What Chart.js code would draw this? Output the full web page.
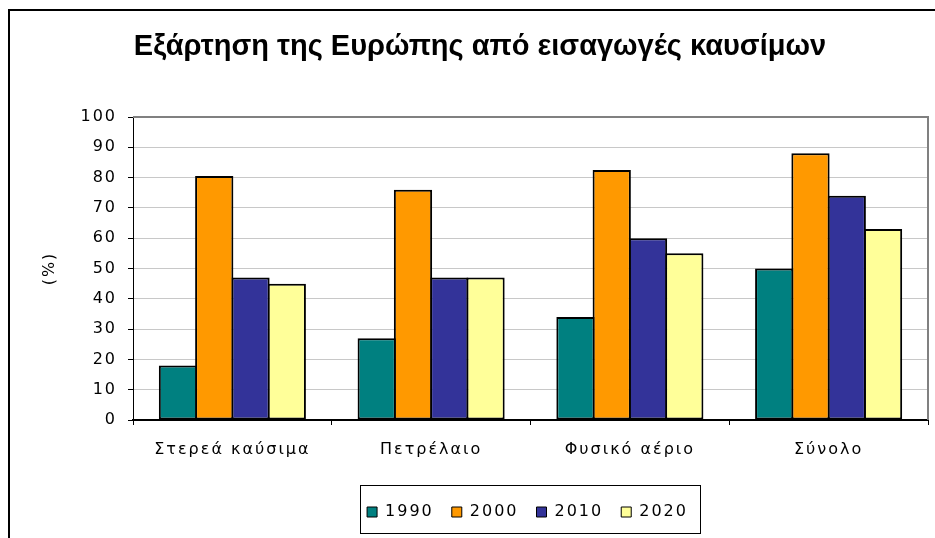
<!DOCTYPE html>
<html>
<head>
<meta charset="utf-8">
<script src="https://cdn.jsdelivr.net/npm/chart.js@4.4.1/dist/chart.umd.min.js"></script>
<style>
  body { margin: 0; background: #fff; overflow: hidden; }
  #wrap { position: relative; width: 935px; height: 538px; overflow: hidden; }
  #frame {
    position: absolute; left: 8px; top: 9px; width: 1000px; height: 600px;
    border: 2px solid #000; pointer-events: none;
  }
  #title {
    position: absolute; left: 8px; top: 31px; width: 944px; text-align: center;
    font: bold 29px/1 "Liberation Sans", Arial, sans-serif; color: #000;
  }
  canvas { position: absolute; left: 0; top: 0; }
</style>
</head>
<body>
<div id="wrap">
  <canvas id="chart" width="935" height="538"></canvas>
  <div id="title">Εξάρτηση της Ευρώπης από εισαγωγές καυσίμων</div>
  <div id="frame"></div>
</div>
<script>
const categories = ['Στερεά καύσιμα', 'Πετρέλαιο', 'Φυσικό αέριο', 'Σύνολο'];
const years = ['1990', '2000', '2010', '2020'];
const values1990 = [18, 27, 34, 50];
const values2000 = [80.5, 76, 82.5, 88];
const values2010 = [47, 47, 60, 74];
const values2020 = [45, 47, 55, 63];
const yTicks = [0, 10, 20, 30, 40, 50, 60, 70, 80, 90, 100];

const colors = ['#008080', '#FF9900', '#333399', '#FFFF99'];
const series = [values1990, values2000, values2010, values2020];

// Verdana-like wide spacing for all canvas text
const spacing = {
  id: 'spacing',
  beforeLayout(chart) { chart.ctx.letterSpacing = '2px'; },
  beforeDraw(chart) { chart.ctx.letterSpacing = '2px'; }
};

function legendExtent(lg) {
  let l = Infinity, r = -Infinity, t = Infinity, b = -Infinity;
  lg.legendHitBoxes.forEach(h => {
    l = Math.min(l, h.left); r = Math.max(r, h.left + h.width);
    t = Math.min(t, h.top); b = Math.max(b, h.top + h.height);
  });
  return { l, r, t, b };
}

// legend sits centred under the plot, not the whole canvas
const legendShift = {
  id: 'legendShift',
  beforeDraw(chart) {
    const lg = chart.legend;
    if (!lg.legendHitBoxes.length) return;
    const a = chart.chartArea;
    const e = legendExtent(lg);
    const dx = Math.round((a.left + a.right) / 2 - 3 - (e.l + e.r) / 2);
    lg.left += dx;
    lg.right += dx;
    lg.legendHitBoxes.forEach(h => { h.left += dx; });
  }
};

// gray frame on top/right of plot and a box round the legend
const frames = {
  id: 'frames',
  afterDraw(chart) {
    const ctx = chart.ctx;
    const a = chart.chartArea;
    ctx.save();
    ctx.strokeStyle = '#808080';
    ctx.lineWidth = 2;
    ctx.beginPath();
    ctx.moveTo(a.left, a.top);
    ctx.lineTo(a.right, a.top);
    ctx.lineTo(a.right, a.bottom);
    ctx.stroke();

    if (chart.legend.legendHitBoxes.length) {
      const e = legendExtent(chart.legend);
      ctx.strokeStyle = '#000';
      ctx.lineWidth = 1;
      const x0 = Math.round(e.l - 7), y0 = Math.round(e.t - 19);
      ctx.strokeRect(x0 + 0.5, y0 + 0.5, Math.round(e.r + 12) - x0, Math.round(e.b + 13) - y0);
    }
    ctx.restore();
  }
};

const font = { family: '"DejaVu Sans", Verdana, sans-serif', size: 16 };

new Chart(document.getElementById('chart'), {
  type: 'bar',
  data: {
    labels: categories,
    datasets: years.map((y, i) => ({
      label: y,
      data: series[i],
      backgroundColor: colors[i],
      borderColor: '#000',
      borderWidth: 2,
      borderSkipped: false,
      categoryPercentage: 0.73,
      barPercentage: 1.055
    }))
  },
  options: {
    responsive: false,
    animation: false,
    layout: { padding: { left: 35, right: 7, top: 117, bottom: 8 } },
    plugins: {
      tooltip: { enabled: false },
      legend: {
        position: 'bottom',
        labels: {
          font: font,
          color: '#000',
          boxWidth: 10,
          boxHeight: 10,
          padding: 18,
          generateLabels(chart) {
            return Chart.defaults.plugins.legend.labels.generateLabels(chart)
              .map(l => Object.assign(l, { lineWidth: 1 }));
          }
        }
      }
    },
    scales: {
      x: {
        grid: { drawOnChartArea: false, drawTicks: true, tickLength: 5, color: '#000', offset: true },
        border: { color: '#000', width: 2 },
        ticks: { font: font, color: '#000', padding: 15, maxRotation: 0 },
        afterFit(scale) { scale.height = 66; }
      },
      y: {
        min: 0,
        max: 100,
        afterBuildTicks(scale) { scale.ticks = yTicks.map(v => ({ value: v })); },
        grid: {
          color: ctx => ctx.tick && ctx.tick.value === 100 ? '#808080' : '#c8c8c8',
          tickColor: '#000',
          tickLength: 5,
          lineWidth: 1
        },
        border: { color: '#000', width: 1 },
        ticks: { font: font, color: '#000', padding: 11 },
        title: { display: true, text: '(%)', font: font, color: '#000', padding: { top: 5, bottom: 0 } },
        afterFit(scale) { scale.width = 98; }
      }
    }
  },
  plugins: [spacing, legendShift, frames]
});
</script>
</body>
</html>
